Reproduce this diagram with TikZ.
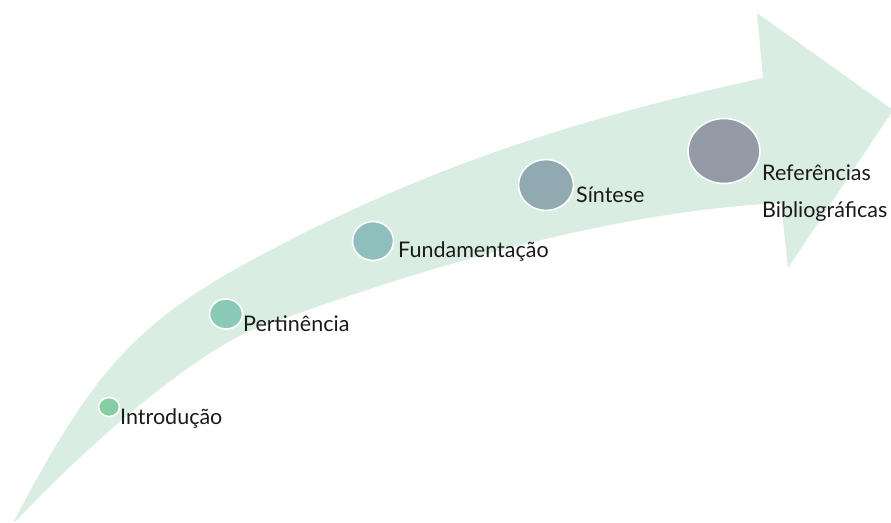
\documentclass[tikz,border=0pt]{standalone}
\usepackage{fontspec}
\setmainfont{Lato}
\usetikzlibrary{shapes.geometric}
\definecolor{arrowfill}{HTML}{DAEDE2}
\definecolor{cA}{HTML}{86CFA4}
\definecolor{cB}{HTML}{89C9B6}
\definecolor{cC}{HTML}{8EBFBD}
\definecolor{cD}{HTML}{91AAB2}
\definecolor{cE}{HTML}{959BA6}
\definecolor{txt}{HTML}{1A1A1A}
\tikzset{
  dot/.style={ellipse, draw=white, line width=1.6pt, inner sep=0pt},
  lbl/.style={anchor=base west, inner sep=0pt, text=txt, font=\fontsize{21.5}{25}\selectfont}
}
\begin{document}
\begin{tikzpicture}[x=1pt,y=-1pt]
\useasboundingbox (0,0) rectangle (891,522);
% curved arrow body
\fill[arrowfill] (14,521)
  .. controls (94,369) and (137,320) .. (267,252)
  .. controls (437,162) and (593,115) .. (763,78)
  -- (757,13) -- (893,110) -- (788,268) -- (781,203)
  .. controls (600,212) and (400,275) .. (247,332)
  .. controls (177,367) and (86,447) .. (16,521)
  -- cycle;
% circles
\node[dot, fill=cA, minimum width=21pt, minimum height=19pt] (c1) at (109,407) {};
\node[dot, fill=cB, minimum width=33pt, minimum height=30pt] (c2) at (226,314) {};
\node[dot, fill=cC, minimum width=41pt, minimum height=39pt] (c3) at (373,241) {};
\node[dot, fill=cD, minimum width=55pt, minimum height=51pt] (c4) at (546,185) {};
\node[dot, fill=cE, minimum width=72pt, minimum height=65pt] (c5) at (724,151) {};
% labels
\node[lbl] (t1) at (120,424) {Introdução};
\node[lbl] (t2) at (243,331) {Pertinência};
\node[lbl] (t3) at (398,257) {Fundamentação};
\node[lbl] (t4) at (576,202) {Síntese};
\node[lbl] (t5) at (762,180) {Referências};
\node[lbl] (t6) at (762,217) {Bibliográficas};
\end{tikzpicture}
\end{document}
